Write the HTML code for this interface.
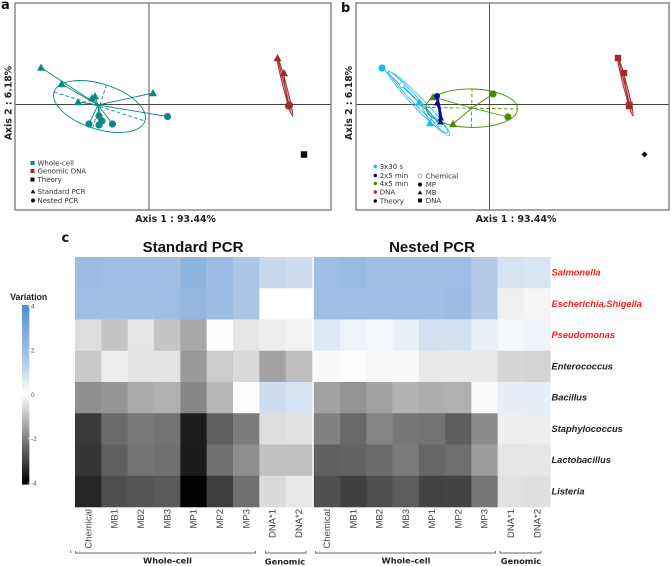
<!DOCTYPE html>
<html lang="en">
<head>
<meta charset="utf-8">
<title>Ordination and heatmap of PCR variation</title>
<style>
html,body{margin:0;padding:0;background:#fff;width:671px;height:566px;overflow:hidden}
svg{display:block}
.dj{font-family:"DejaVu Sans",sans-serif}
.lib{font-family:"Liberation Sans",sans-serif}
</style>
</head>
<body>
<svg id="chart" xmlns="http://www.w3.org/2000/svg" width="671" height="566" viewBox="0 0 671 566">
  <rect x="0" y="0" width="671" height="566" fill="#fff"/>
  <g id="panel-a"></g>
  <g id="panel-b"></g>
  <g id="heatmap"></g>
  <g id="colorbar"></g>

  <text class="dj" x="1" y="9" font-size="13" font-weight="bold" fill="#111">a</text>
  <text class="dj" x="341" y="12" font-size="13" font-weight="bold" fill="#111">b</text>
  <text class="dj" x="61.5" y="242" font-size="13" font-weight="bold" fill="#111">c</text>

  <text class="dj" x="175.5" y="222" font-size="9.3" font-weight="bold" fill="#222" text-anchor="middle">Axis 1 : 93.44%</text>
  <text class="dj" transform="translate(11.5,103) rotate(-90)" font-size="9.3" font-weight="bold" fill="#222" text-anchor="middle">Axis 2 : 6.18%</text>
  <text class="dj" x="516" y="222" font-size="9.3" font-weight="bold" fill="#222" text-anchor="middle">Axis 1 : 93.44%</text>
  <text class="dj" transform="translate(352,103) rotate(-90)" font-size="9.3" font-weight="bold" fill="#222" text-anchor="middle">Axis 2 : 6.18%</text>

  <g class="dj" font-size="7" fill="#333">
    <rect x="30.5" y="161" width="4" height="4" fill="#0b8a85"/>
    <text x="37.5" y="165.5">Whole-cell</text>
    <rect x="30.5" y="169" width="4" height="4" fill="#a52a2a"/>
    <text x="37.5" y="173.5">Genomic DNA</text>
    <rect x="30.5" y="177.5" width="4" height="4" fill="#000"/>
    <text x="37.5" y="182">Theory</text>
    <polygon points="33,189.3 35.4,193.3 30.6,193.3" fill="#111"/>
    <text x="37.5" y="194">Standard PCR</text>
    <circle cx="33" cy="200.5" r="2" fill="#111"/>
    <text x="37.5" y="203">Nested PCR</text>
  </g>

  <g class="dj" font-size="7" fill="#333">
    <circle cx="375.3" cy="166.5" r="1.7" fill="#1cb8f5"/>
    <text x="379.7" y="169">3x30 s</text>
    <circle cx="375.3" cy="175.5" r="1.7" fill="#00108a"/>
    <text x="379.7" y="178">2x5 min</text>
    <circle cx="375.3" cy="183.5" r="1.7" fill="#4a8c00"/>
    <text x="379.7" y="186">4x5 min</text>
    <circle cx="375.3" cy="192" r="1.7" fill="#a52a2a"/>
    <text x="379.7" y="194.5">DNA</text>
    <circle cx="375.3" cy="201" r="1.7" fill="#000"/>
    <text x="379.7" y="203.5">Theory</text>
    <circle cx="420" cy="176" r="2" fill="#fff" stroke="#777" stroke-width="0.6"/>
    <text x="425.7" y="178.5">Chemical</text>
    <circle cx="420" cy="184.5" r="2" fill="#111"/>
    <text x="425.7" y="187">MP</text>
    <polygon points="420,190.2 422.4,194.2 417.6,194.2" fill="#111"/>
    <text x="425.7" y="195">MB</text>
    <rect x="418" y="198.5" width="4" height="4" fill="#111"/>
    <text x="425.7" y="203">DNA</text>
  </g>

  <text class="lib" x="193" y="252" font-size="15" font-weight="bold" fill="#111" text-anchor="middle">Standard PCR</text>
  <text class="lib" x="432" y="252" font-size="15" font-weight="bold" fill="#111" text-anchor="middle">Nested PCR</text>
  <text class="lib" x="28.7" y="300" font-size="8.8" font-weight="bold" fill="#222" text-anchor="middle">Variation</text>

  <g fill="none" stroke="#666" stroke-width="0.9">
    <path d="M70.7 550.5V553"/>
    <path d="M75.5 551V553H255.5V551"/>
    <path d="M265.5 551V553H306V551"/>
    <path d="M315.5 551V553H495.5V551"/>
    <path d="M500 551V553H541V551"/>
  </g>
  <g class="dj" font-size="8.3" font-weight="bold" fill="#222" text-anchor="middle">
    <text x="167.5" y="563.5">Whole-cell</text>
    <text x="285" y="564.5">Genomic</text>
    <text x="406" y="563.5">Whole-cell</text>
    <text x="521" y="564">Genomic</text>
  </g>
</svg>
<script>
// ---------- Ordination data (Axis 1, Axis 2 scores) ----------
const wholeCellTriangles = [[-1.08,0.37],[-0.875,0.205],[-0.71,0.025],[-0.57,0.065],[-0.54,0.085],[0.04,0.115]];
const wholeCellCircles = [[0.185,-0.12],[-0.6,-0.195],[-0.5,-0.115],[-0.47,-0.165],[-0.5,-0.205],[-0.365,-0.195]];
const wholeCellCentre = [-0.51,-0.005];
const wholeCellEllipse = [-0.495,-0.02,0.477,0.226,17.7];

const genomicTriangles = [[1.285,0.465],[1.35,0.315]];
const genomicCircles = [[1.405,-0.005],[1.395,-0.015]];
const genomicSquares = [[1.285,0.465],[1.345,0.315],[1.4,-0.005],[1.395,-0.015]];
const genomicCentre = [1.36,0.175];
const genomicEllipse = [1.36,0.175,0.3,0.018,75.5];

const theoryPoint = [1.55,-0.5];

const shortMpPoints = [[-1.075,0.365],[-0.495,-0.195]];
const shortMbPoints = [[-0.705,0.02],[-0.595,-0.185]];
const shortChemicalPoints = [[-0.875,0.195],[-0.495,-0.195]];
const shortCentre = [-0.695,0.015];
const shortEllipses = [[-0.705,0.01,0.44,0.055,46],[-0.77,0.075,0.35,0.032,47],[-0.5,-0.2,0.115,0.03,45]];

const midPoints = [[-0.525,0.085],[-0.525,0.015],[-0.485,-0.135],[-0.49,-0.175]];
const midCentre = [-0.5,-0.04];

const longCircles = [[0.035,0.105],[0.185,-0.125]];
const longTriangles = [[-0.565,0.075],[-0.365,-0.195]];
const longCentre = [-0.175,-0.035];
const longEllipse = [-0.178,-0.037,0.457,0.192,1];

// ---------- Heatmap data ----------
const rowLabels = ["Salmonella","Escherichia.Shigella","Pseudomonas","Enterococcus","Bacillus","Staphylococcus","Lactobacillus","Listeria"];
const rowIsRed = [true,true,true,false,false,false,false,false];
const columnLabels = ["Chemical","MB1","MB2","MB3","MP1","MP2","MP3","DNA*1","DNA*2"];
const standardValues = [
  [2.0,1.95,1.95,1.9,2.4,2.0,1.65,1.05,0.9],
  [1.95,1.9,1.9,1.95,2.2,2.0,1.65,0,0],
  [-0.52,-0.91,-0.41,-0.91,-1.35,0.05,-0.41,-0.27,-0.2],
  [-0.85,-0.27,-0.42,-0.42,-1.6,-0.8,-0.6,-1.44,-1.03],
  [-1.77,-1.65,-1.31,-1.24,-1.9,-1.11,0.03,0.9,0.75],
  [-3.09,-2.32,-2.12,-2.2,-3.56,-2.5,-2.06,-0.5,-0.45],
  [-3.15,-2.5,-2.2,-2.25,-3.57,-2.25,-1.77,-0.97,-0.97],
  [-3.42,-2.8,-2.66,-2.6,-4,-3.03,-2.27,-0.55,-0.36]
];
const nestedValues = [
  [1.95,2.1,1.9,1.9,1.9,1.95,1.5,0.75,0.7],
  [1.95,1.95,1.95,1.95,1.95,2.0,1.5,-0.24,-0.16],
  [0.6,0.3,0.2,0.4,0.8,0.8,0.4,0.2,0.3],
  [-0.08,-0.03,-0.14,-0.1,-0.34,-0.33,-0.34,-0.65,-0.67],
  [-1.46,-1.69,-1.44,-1.19,-1.29,-1.24,-0.06,0.45,0.45],
  [-1.98,-2.37,-1.93,-2.15,-2.2,-2.52,-1.82,-0.25,-0.27],
  [-2.5,-2.45,-2.32,-2.07,-2.4,-2.27,-1.55,-0.4,-0.4],
  [-2.76,-3.0,-2.78,-2.57,-2.96,-2.95,-2.15,-0.47,-0.5]
];
const colorbarTicks = [4,2,0,-2,-4];

// ---------- Helpers ----------
const NS = "http://www.w3.org/2000/svg";
function make(parent, tag, name, props) {
  const el = document.createElementNS(NS, tag);
  
  
  for (const k in props) el.setAttribute(k, props[k]);
  parent.appendChild(el);
  return el;
}
function linear(d0, d1, r0, r1) { return v => r0 + (v - d0) * (r1 - r0) / (d1 - d0); }

const TEAL = "#0b8a85", RED = "#a52a2a", CYAN = "#1cb8f5", NAVY = "#00108a", GREEN = "#4a8c00";

function panel(id, left, right, zeroX) {
  const root = document.getElementById(id);
  const top = 3, bottom = 210, zeroY = 104.5;
  const x = linear(0, 1, zeroX, zeroX + 100);
  const y = linear(0, 1, zeroY, zeroY - 100);
  make(root, "line", "vertical-zero-axis", {x1:x(0),x2:x(0),y1:top,y2:bottom,stroke:"#555","stroke-width":1});
  make(root, "line", "horizontal-zero-axis", {x1:left,x2:right,y1:y(0),y2:y(0),stroke:"#444","stroke-width":1});
  make(root, "rect", "plot-frame", {x:left,y:top,width:right-left,height:bottom-top,fill:"none",stroke:"#777","stroke-width":1.3});
  return {root, x, y};
}
function ellipse(p, e, color, name, width, fill) {
  const cx = p.x(e[0]), cy = p.y(e[1]);
  const rx = p.x(e[0] + e[2]) - cx, ry = p.y(e[1]) - p.y(e[1] + e[3]);
  make(p.root, "ellipse", name, {cx:cx,cy:cy,rx:rx,ry:ry,fill:fill || "none",stroke:color,"stroke-width":width || 0.9,transform:"rotate("+e[4]+" "+cx+" "+cy+")"});
}
function ellipseAxes(p, e, color, name) {
  const a = e[4] * Math.PI / 180;
  const dxA = e[2] * Math.cos(a), dyA = -e[2] * Math.sin(a);
  const dxB = e[3] * Math.sin(a), dyB = e[3] * Math.cos(a);
  const attrs = {stroke:color,"stroke-width":0.9,"stroke-dasharray":"3.5 2.5"};
  make(p.root, "line", name + "-major-axis", Object.assign({x1:p.x(e[0]-dxA),y1:p.y(e[1]-dyA),x2:p.x(e[0]+dxA),y2:p.y(e[1]+dyA)}, attrs));
  make(p.root, "line", name + "-minor-axis", Object.assign({x1:p.x(e[0]-dxB),y1:p.y(e[1]-dyB),x2:p.x(e[0]+dxB),y2:p.y(e[1]+dyB)}, attrs));
}
function spider(p, centre, pts, color, name, width) {
  pts.forEach(q => {
    make(p.root, "line", name, {x1:p.x(centre[0]),y1:p.y(centre[1]),x2:p.x(q[0]),y2:p.y(q[1]),stroke:color,"stroke-width":width || 0.9});
  });
}
function circles(p, pts, color, r, name, stroke) {
  pts.forEach(q => {
    make(p.root, "circle", name, {cx:p.x(q[0]),cy:p.y(q[1]),r:r,fill:color,stroke:stroke || "none","stroke-width":stroke ? 0.6 : 0});
  });
}
function triangles(p, pts, color, s, name) {
  pts.forEach(q => {
    const cx = p.x(q[0]), cy = p.y(q[1]);
    make(p.root, "polygon", name, {points:cx+","+(cy-s)+" "+(cx+s)+","+(cy+s*0.8)+" "+(cx-s)+","+(cy+s*0.8),fill:color});
  });
}
function squares(p, pts, color, s, name) {
  pts.forEach(q => {
    make(p.root, "rect", name, {x:p.x(q[0])-s,y:p.y(q[1])-s,width:2*s,height:2*s,fill:color});
  });
}
function genomicSpread(p) {
  ellipse(p, genomicEllipse, RED, "genomic-ellipse", 0.9, "rgba(165,42,42,0.45)");
  spider(p, genomicCentre, genomicSquares, RED, "genomic-spider", 0.9);
}

// ---------- Panel a ----------
const pa = panel("panel-a", 15, 331, 149);
ellipse(pa, wholeCellEllipse, TEAL, "whole-cell-ellipse", 0.9);
ellipseAxes(pa, wholeCellEllipse, TEAL, "whole-cell-ellipse");
spider(pa, wholeCellCentre, wholeCellTriangles.concat(wholeCellCircles), TEAL, "whole-cell-spider", 0.9);
triangles(pa, wholeCellTriangles, TEAL, 4, "whole-cell-standard-point");
circles(pa, wholeCellCircles, TEAL, 3.6, "whole-cell-nested-point");
genomicSpread(pa);
triangles(pa, genomicTriangles, RED, 4, "genomic-standard-point");
circles(pa, genomicCircles, RED, 3.6, "genomic-nested-point");
squares(pa, [theoryPoint], "#000", 3.2, "theory-point");

// ---------- Panel b ----------
const pb = panel("panel-b", 356, 669, 489.5);
shortEllipses.forEach(e => ellipse(pb, e, CYAN, "short-cycle-ellipse", 0.8));
spider(pb, shortCentre, shortMpPoints.concat(shortMbPoints, shortChemicalPoints), CYAN, "short-cycle-spider", 1);
circles(pb, shortMpPoints.slice(0,1), CYAN, 3.6, "short-cycle-mp-point");
triangles(pb, shortMbPoints, CYAN, 4, "short-cycle-mb-point");
circles(pb, shortChemicalPoints, "#fff", 2.5, "short-cycle-chemical-point", CYAN);
ellipse(pb, longEllipse, GREEN, "long-cycle-ellipse", 0.9);
ellipseAxes(pb, longEllipse, GREEN, "long-cycle-ellipse");
spider(pb, longCentre, longCircles.concat(longTriangles), GREEN, "long-cycle-spider", 0.9);
circles(pb, longCircles, GREEN, 3.6, "long-cycle-mp-point");
triangles(pb, longTriangles, GREEN, 4, "long-cycle-mb-point");
spider(pb, midCentre, midPoints, NAVY, "mid-cycle-spider", 2.6);
circles(pb, midPoints.slice(0,1), NAVY, 3, "mid-cycle-mp-point");
triangles(pb, midPoints.slice(1), NAVY, 3.2, "mid-cycle-mb-point");
genomicSpread(pb);
squares(pb, genomicSquares, RED, 3.2, "genomic-dna-point");
make(pb.root, "polygon", "theory-diamond", {points:(pb.x(theoryPoint[0]))+","+(pb.y(theoryPoint[1])-3)+" "+(pb.x(theoryPoint[0])+3)+","+pb.y(theoryPoint[1])+" "+pb.x(theoryPoint[0])+","+(pb.y(theoryPoint[1])+3)+" "+(pb.x(theoryPoint[0])-3)+","+pb.y(theoryPoint[1]),fill:"#000"});

// ---------- Colour scale ----------
function hexMix(a, b, t) {
  return "rgb(" + [0,1,2].map(i => Math.round(a[i] + (b[i]-a[i]) * t)).join(",") + ")";
}
const blueRamp = [[255,255,255],[201,218,238],[157,188,226],[120,168,217],[74,146,208]];
function colorOf(v) {
  if (v < 0) { const g = Math.max(0, Math.round(255 * (1 + v / 4))); return "rgb("+g+","+g+","+g+")"; }
  const c = Math.min(v, 3.9999), i = Math.floor(c);
  return hexMix(blueRamp[i], blueRamp[i+1], c - i);
}

// ---------- Heatmap ----------
const heat = document.getElementById("heatmap");
const rowY = linear(0, rowLabels.length, 257, 507);
function drawBlock(values, x0, x1, name) {
  const colX = linear(0, columnLabels.length, x0, x1);
  values.forEach((row, r) => {
    row.forEach((v, c) => {
      make(heat, "rect", name + "-cell", {x:colX(c),y:rowY(r),width:colX(c+1)-colX(c)+0.3,height:rowY(r+1)-rowY(r)+0.3,fill:colorOf(v)});
    });
  });
  columnLabels.forEach((label, c) => {
    const cx = colX(c + 0.5) + 3.2;
    const t = make(heat, "text", name + "-column-label", {transform:"translate("+cx+",509) rotate(-90)","font-size":9.5,"font-family":'"Liberation Sans",sans-serif',fill:"#444","text-anchor":"end"});
    t.textContent = label;
  });
}
drawBlock(standardValues, 75, 312, "standard");
drawBlock(nestedValues, 313.8, 550.2, "nested");
rowLabels.forEach((label, r) => {
  const t = make(heat, "text", "taxon-label", {x:551.5,y:rowY(r+0.5)+3,"font-size":9.3,"font-weight":"bold","font-style":"italic","font-family":'"Liberation Sans",sans-serif',fill:rowIsRed[r] ? "#ff1a1a" : "#222"});
  t.textContent = label;
});

// ---------- Colour bar ----------
const bar = document.getElementById("colorbar");
const barY = linear(4, -4, 306, 483);
for (let v = 4; v > -4.05; v -= 0.1) {
  make(bar, "rect", "colorbar-step", {x:22,y:barY(v)-1,width:7.3,height:2.6,fill:colorOf(v)});
}
colorbarTicks.forEach(v => {
  make(bar, "line", "colorbar-tick", {x1:27.5,x2:29.3,y1:barY(v),y2:barY(v),stroke:"#fff","stroke-width":0.5});
  const t = make(bar, "text", "colorbar-tick-label", {x:31,y:barY(v)+2.3,"font-size":6.5,"font-family":'"Liberation Sans",sans-serif',fill:"#555"});
  t.textContent = String(v);
});
</script>
</body>
</html>
